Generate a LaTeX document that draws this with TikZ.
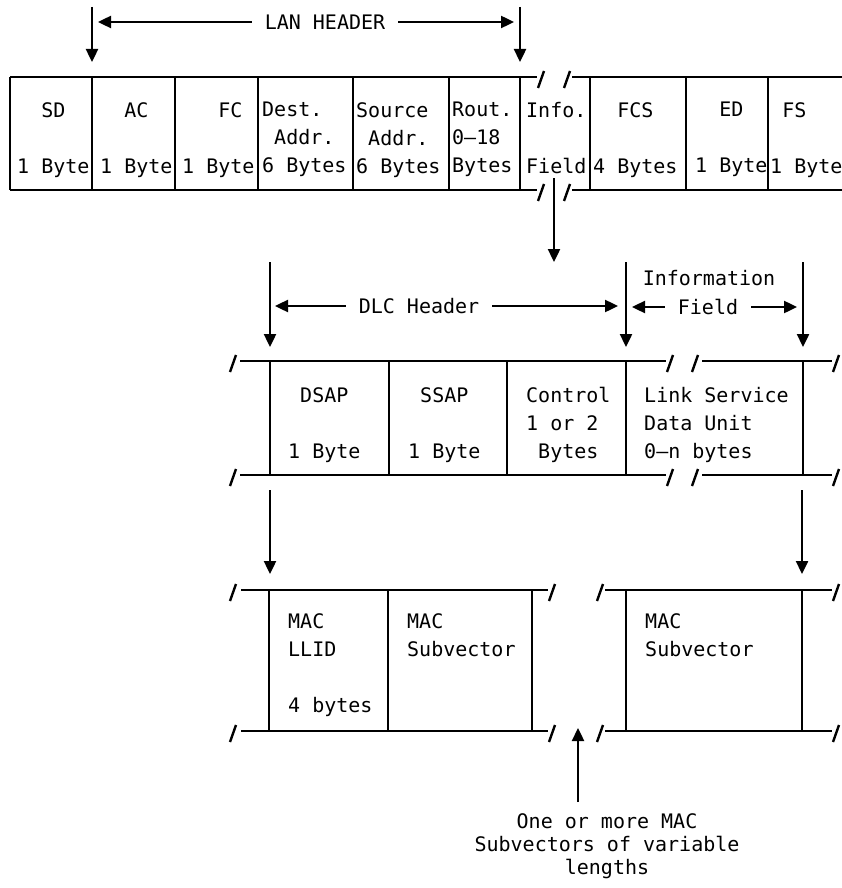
\documentclass[tikz,border=0pt]{standalone}
\usepackage{fontspec}
\setmonofont{DejaVu Sans Mono}
\usetikzlibrary{arrows.meta}
\tikzset{
  fld/.style={anchor=north west,align=left,inner sep=0pt},
  lbl/.style={inner sep=6pt},
  brk/.pic={\draw (-3,11) -- (3,-6);},
}

\begin{document}
\begin{tikzpicture}[x=0.5pt,y=-0.5pt,line width=1.2pt,>={Triangle[length=6.5pt,width=6pt]},
    font=\ttfamily\fontsize{10}{14}\selectfont]
  \useasboundingbox (0,0) rectangle (841,888);
  % LAN frame
  \draw (10,77) -- (537,77) (572,77) -- (845,77) (10,190) -- (537,190) (572,190) -- (845,190);
  \foreach \x in {10,92,175,258,353,449,520,590,686,768} \draw (\x,77) -- (\x,190);
  \foreach \x in {541,567} {\pic at (\x,77) {brk}; \pic at (\x,190) {brk};}
  \node[fld] (sd) at (16,101) {~~SD\\~\\1 Byte};
  \node[fld] (ac) at (99,101) {~~AC\\~\\1 Byte};
  \node[fld] (fc) at (181,101) {~~~FC\\~\\1 Byte};
  \node[fld] (da) at (261,101) {Dest.\\~Addr.\\6 Bytes};
  \node[fld] (sa) at (355,101) {Source\\~Addr.\\6 Bytes};
  \node[fld] (ri) at (451,101) {Rout.\\0–18\\Bytes};
  \node[fld] (inf) at (525,101) {Info.\\~\\Field};
  \node[fld] (fcs) at (592,101) {~~FCS\\~\\4 Bytes};
  \node[fld] (ed) at (694,101) {~~ED\\~\\1 Byte};
  \node[fld] (fs) at (769,101) {~FS\\~\\1 Byte};
  \node[lbl] (lan) at (325,22) {LAN HEADER};
  \coordinate (lanl) at (98,22); \coordinate (lanr) at (514,22);
  \draw[->] (lan) -- (lanl); \draw[->] (lan) -- (lanr);
  % DLC frame
  \draw (240,361) -- (666,361) (702,361) -- (832,361) (240,475) -- (666,475) (702,475) -- (832,475);
  \foreach \x in {270,389,507,626,803} \draw (\x,361) -- (\x,475);
  \foreach \x in {233,670,695,836} {\pic at (\x,361) {brk}; \pic at (\x,475) {brk};}
  \node[fld] (dsap) at (287,386) {~DSAP\\~\\1 Byte};
  \node[fld] (ssap) at (407,386) {~SSAP\\~\\1 Byte};
  \node[fld] (ctl) at (525,386) {Control\\1 or 2\\~Bytes};
  \node[fld] (lsdu) at (643,386) {Link Service\\Data Unit\\0–n bytes};
  \node[lbl] (dlc) at (419,306) {DLC Header};
  \node[lbl] (infh) at (709,278) {Information};
  \node[lbl] (fld) at (708,307) {Field};
  \coordinate (dlcl) at (275,306); \coordinate (dlcr) at (618,306);
  \coordinate (fldl) at (632,307); \coordinate (fldr) at (797,307);
  \draw[->] (dlc) -- (dlcl); \draw[->] (dlc) -- (dlcr);
  \draw[->] (fld) -- (fldl); \draw[->] (fld) -- (fldr);
  % MAC frame
  \draw (241,590) -- (548,590) (605,590) -- (832,590) (241,731) -- (548,731) (605,731) -- (832,731);
  \foreach \x in {269,388,532,626,802} \draw (\x,590) -- (\x,731);
  \foreach \x in {233,552,600,836} {\pic at (\x,590) {brk}; \pic at (\x,731) {brk};}
  \node[fld] (llid) at (287,612) {MAC\\LLID\\~\\4 bytes};
  \node[fld] (sv1) at (406,612) {MAC\\Subvector};
  \node[fld] (sv2) at (644,612) {MAC\\Subvector};
  \node[align=center,anchor=north,inner sep=0pt,font=\ttfamily\fontsize{10}{11.5}\selectfont]
    (note) at (607,812) {One or more MAC\\Subvectors of variable\\lengths};
  % down and up arrows
  \foreach \n/\x/\ya/\yb in {a/92/7/62, b/520/7/62, c/554/178/262, d/270/262/347, e/626/262/347,
      f/803/262/347, g/270/490/574, h/802/490/574, u/578/802/728}
    {\coordinate (\n0) at (\x,\ya); \coordinate (\n1) at (\x,\yb); \draw[->] (\n0) -- (\n1);}
\end{tikzpicture}
\end{document}
